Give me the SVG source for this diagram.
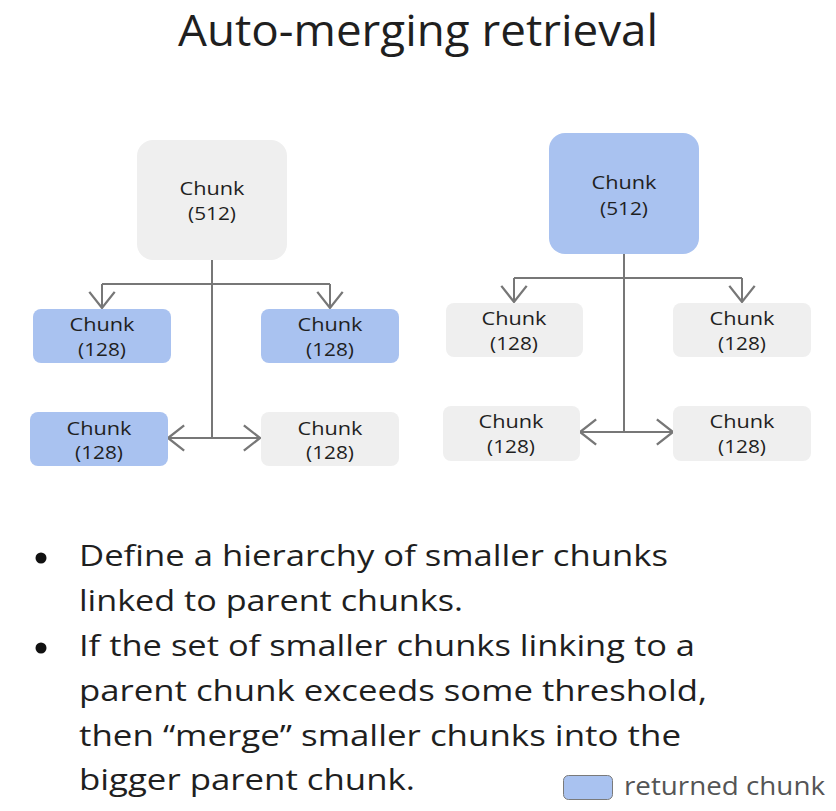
<svg xmlns="http://www.w3.org/2000/svg" width="836" height="811" viewBox="0 0 836 811">
<style>
  text { font-family: "Open Sans", "Noto Sans", "DejaVu Sans", sans-serif; fill: #1f1f1f; }
  .gray { fill: #efefef; }
  .blue { fill: #a9c2f0; }
  .lbl { font-size: 19px; text-anchor: middle; }
  .conn { stroke: #777; stroke-width: 2; fill: none; }
  .body { font-size: 30px; }
</style>
<defs>
  <marker id="chev" markerUnits="userSpaceOnUse" markerWidth="30" markerHeight="30" viewBox="-16 -13 18 26" refX="0" refY="0" orient="auto">
    <path d="M-14,-11 L0,0 L-14,11" fill="none" stroke="#777" stroke-width="2"/>
  </marker>
</defs>
<rect width="836" height="811" fill="#ffffff"/>

<text x="418" y="46" font-size="43" text-anchor="middle" textLength="480" lengthAdjust="spacingAndGlyphs">Auto-merging retrieval</text>

<!-- connectors -->
<g id="connectors">
  <path class="conn" d="M212,260 V438"/>
  <path class="conn" d="M102,284 H330"/>
  <path class="conn" d="M102,284 V308" marker-end="url(#chev)"/>
  <path class="conn" d="M330,284 V308" marker-end="url(#chev)"/>
  <path class="conn" d="M212,438 H168" marker-end="url(#chev)"/>
  <path class="conn" d="M212,438 H260" marker-end="url(#chev)"/>

  <path class="conn" d="M624,254 V432"/>
  <path class="conn" d="M514,278 H742"/>
  <path class="conn" d="M514,278 V302" marker-end="url(#chev)"/>
  <path class="conn" d="M742,278 V302" marker-end="url(#chev)"/>
  <path class="conn" d="M624,432 H580" marker-end="url(#chev)"/>
  <path class="conn" d="M624,432 H673" marker-end="url(#chev)"/>
</g>

<!-- left tree -->
<g id="L-root">
  <rect class="gray" x="137" y="140" width="150" height="120" rx="16"/>
  <text class="lbl" x="212" y="195" textLength="65" lengthAdjust="spacingAndGlyphs">Chunk</text>
  <text class="lbl" x="212" y="220" textLength="48" lengthAdjust="spacingAndGlyphs">(512)</text>
</g>
<g id="L-c1">
  <rect class="blue" x="33" y="309" width="138" height="54" rx="8"/>
  <text class="lbl" x="102" y="331" textLength="65" lengthAdjust="spacingAndGlyphs">Chunk</text>
  <text class="lbl" x="102" y="356" textLength="48" lengthAdjust="spacingAndGlyphs">(128)</text>
</g>
<g id="L-c2">
  <rect class="blue" x="261" y="309" width="138" height="54" rx="8"/>
  <text class="lbl" x="330" y="331" textLength="65" lengthAdjust="spacingAndGlyphs">Chunk</text>
  <text class="lbl" x="330" y="356" textLength="48" lengthAdjust="spacingAndGlyphs">(128)</text>
</g>
<g id="L-c3">
  <rect class="blue" x="30" y="412" width="138" height="54" rx="8"/>
  <text class="lbl" x="99" y="435" textLength="65" lengthAdjust="spacingAndGlyphs">Chunk</text>
  <text class="lbl" x="99" y="459" textLength="48" lengthAdjust="spacingAndGlyphs">(128)</text>
</g>
<g id="L-c4">
  <rect class="gray" x="261" y="412" width="138" height="54" rx="8"/>
  <text class="lbl" x="330" y="435" textLength="65" lengthAdjust="spacingAndGlyphs">Chunk</text>
  <text class="lbl" x="330" y="459" textLength="48" lengthAdjust="spacingAndGlyphs">(128)</text>
</g>

<!-- right tree -->
<g id="R-root">
  <rect class="blue" x="549" y="133" width="150" height="121" rx="16"/>
  <text class="lbl" x="624" y="189" textLength="65" lengthAdjust="spacingAndGlyphs">Chunk</text>
  <text class="lbl" x="624" y="215" textLength="48" lengthAdjust="spacingAndGlyphs">(512)</text>
</g>
<g id="R-c1">
  <rect class="gray" x="446" y="303" width="137" height="54" rx="8"/>
  <text class="lbl" x="514" y="325" textLength="65" lengthAdjust="spacingAndGlyphs">Chunk</text>
  <text class="lbl" x="514" y="350" textLength="48" lengthAdjust="spacingAndGlyphs">(128)</text>
</g>
<g id="R-c2">
  <rect class="gray" x="673" y="303" width="138" height="54" rx="8"/>
  <text class="lbl" x="742" y="325" textLength="65" lengthAdjust="spacingAndGlyphs">Chunk</text>
  <text class="lbl" x="742" y="350" textLength="48" lengthAdjust="spacingAndGlyphs">(128)</text>
</g>
<g id="R-c3">
  <rect class="gray" x="443" y="406" width="137" height="55" rx="8"/>
  <text class="lbl" x="511" y="428" textLength="65" lengthAdjust="spacingAndGlyphs">Chunk</text>
  <text class="lbl" x="511" y="453" textLength="48" lengthAdjust="spacingAndGlyphs">(128)</text>
</g>
<g id="R-c4">
  <rect class="gray" x="673" y="406" width="138" height="55" rx="8"/>
  <text class="lbl" x="742" y="428" textLength="65" lengthAdjust="spacingAndGlyphs">Chunk</text>
  <text class="lbl" x="742" y="453" textLength="48" lengthAdjust="spacingAndGlyphs">(128)</text>
</g>

<!-- bullets -->
<g id="bullets">
  <circle cx="41" cy="558" r="5.5" fill="#111"/>
  <circle cx="41" cy="648" r="5.5" fill="#111"/>
  <text class="body" x="79" y="566" textLength="589" lengthAdjust="spacingAndGlyphs">Define a hierarchy of smaller chunks</text>
  <text class="body" x="79" y="611" textLength="384" lengthAdjust="spacingAndGlyphs">linked to parent chunks.</text>
  <text class="body" x="79" y="656" textLength="616" lengthAdjust="spacingAndGlyphs">If the set of smaller chunks linking to a</text>
  <text class="body" x="79" y="701" textLength="628" lengthAdjust="spacingAndGlyphs">parent chunk exceeds some threshold,</text>
  <text class="body" x="79" y="746" textLength="602" lengthAdjust="spacingAndGlyphs">then “merge” smaller chunks into the</text>
  <text class="body" x="79" y="790" textLength="336" lengthAdjust="spacingAndGlyphs">bigger parent chunk.</text>
</g>

<!-- legend -->
<g id="legend">
  <rect x="563.5" y="775.5" width="49" height="24" rx="5" fill="#a9c2f0" stroke="#7a7a7a" stroke-width="1"/>
  <text x="624" y="795" font-size="25" style="fill:#555" textLength="201" lengthAdjust="spacingAndGlyphs">returned chunk</text>
</g>
</svg>
